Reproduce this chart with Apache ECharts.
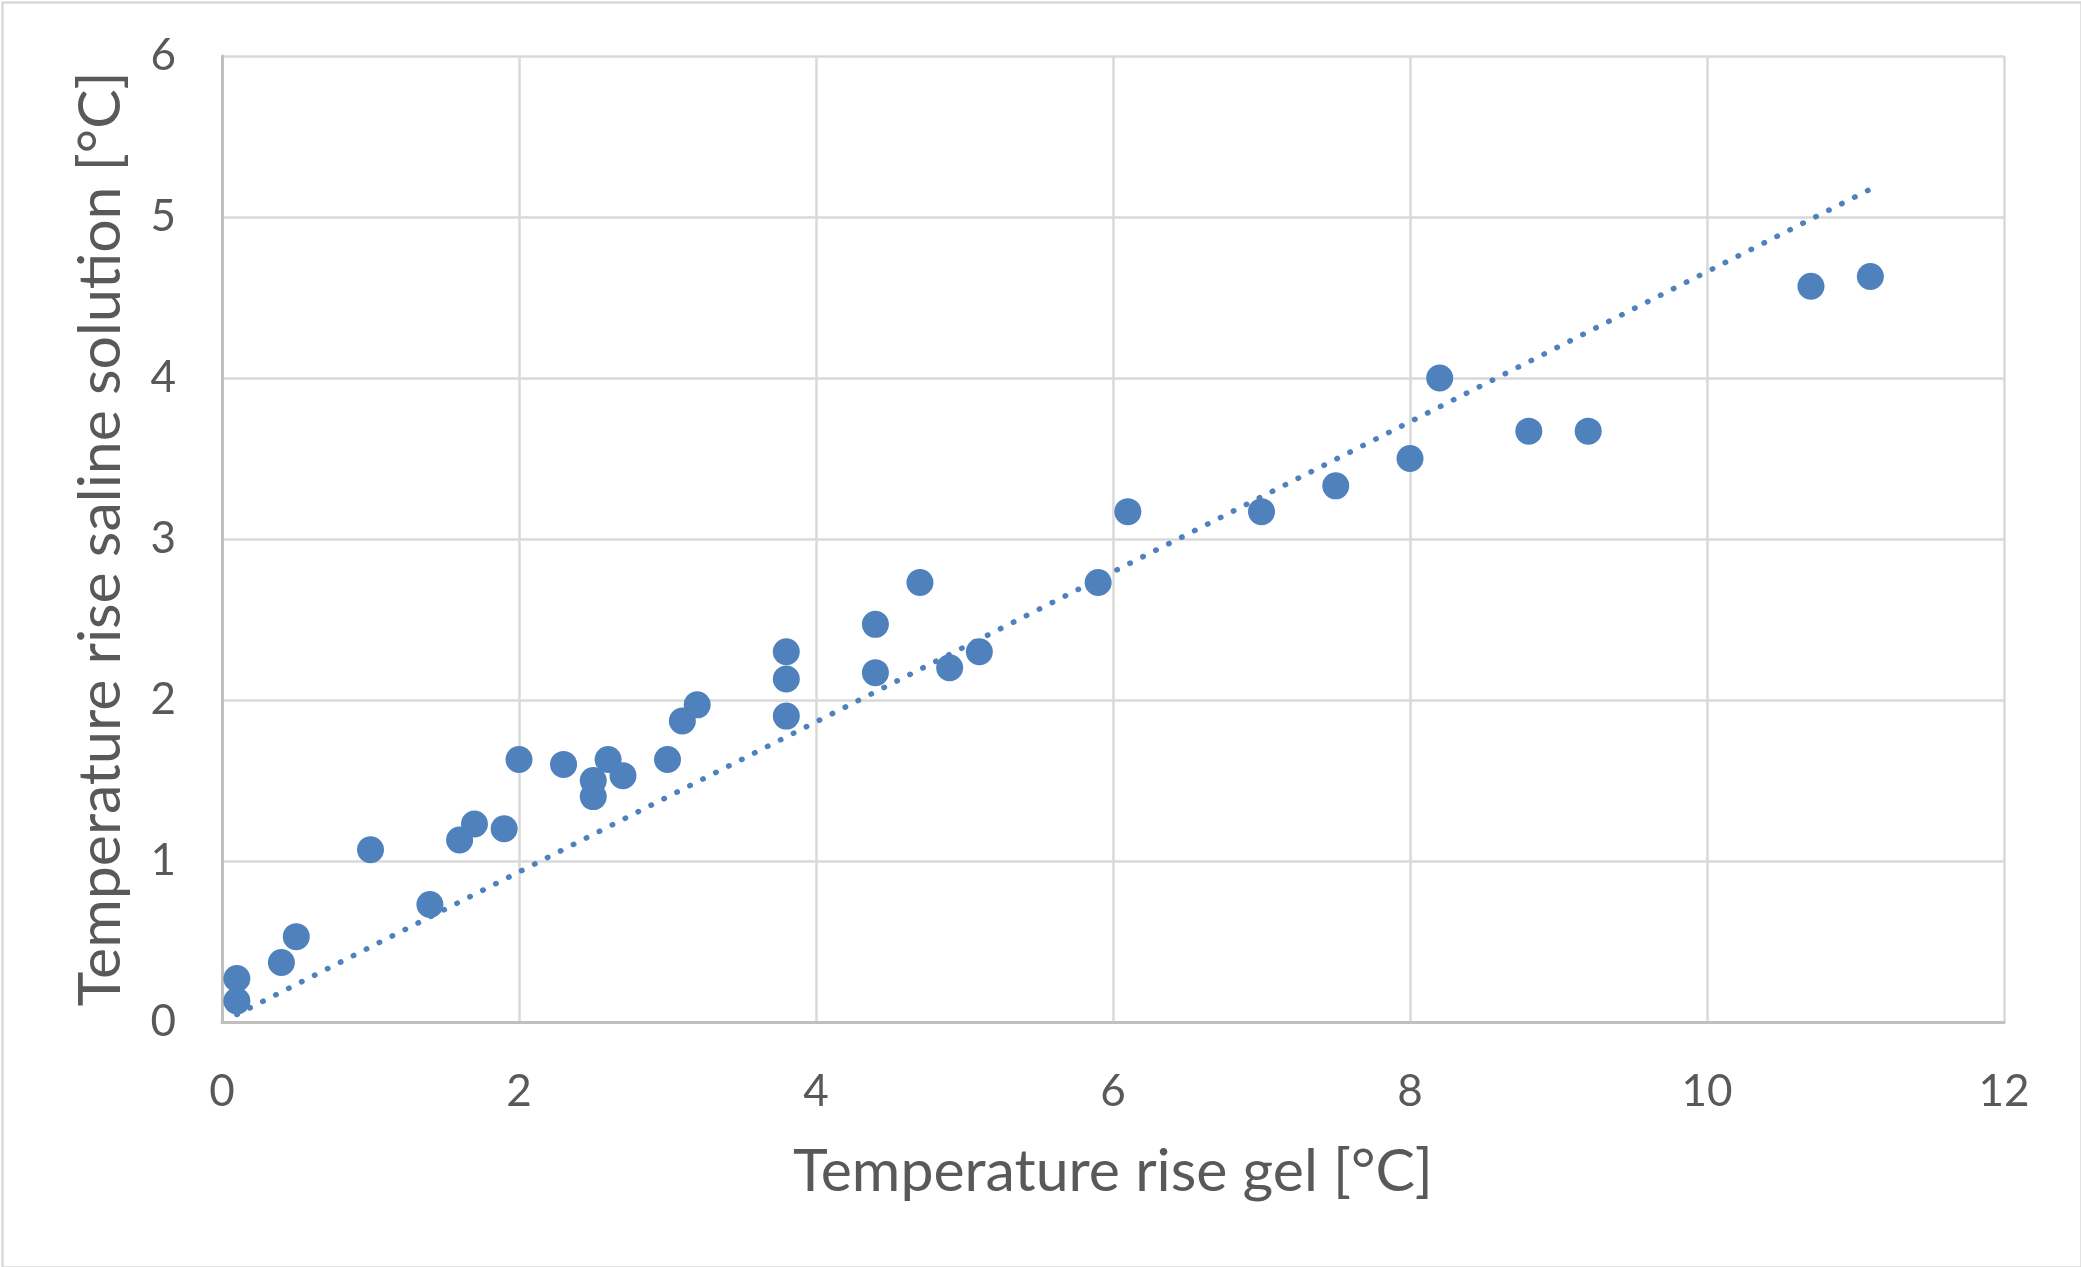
<!DOCTYPE html>
<html><head><meta charset="utf-8">
<script src="https://cdn.jsdelivr.net/npm/echarts@6/dist/echarts.min.js"></script>
<style>html,body{margin:0;padding:0;background:#fff}#c{width:2081px;height:1267px}</style>
</head><body><div id="c"></div>
<script>
// Measured points: temperature rise of gel (x) vs saline solution (y)
const gelRise = [0.1, 0.1, 0.4, 0.5, 1.0, 1.4, 1.6, 1.7, 1.9, 2.0, 2.3, 2.5, 2.5, 2.6, 2.7, 3.0, 3.1, 3.2,
  3.8, 3.8, 3.8, 4.4, 4.4, 4.7, 4.9, 5.1, 5.9, 6.1, 7.0, 7.5, 8.0, 8.2, 8.8, 9.2, 10.7, 11.1];
const salineRise = [0.27, 0.13, 0.37, 0.53, 1.07, 0.73, 1.13, 1.23, 1.2, 1.63, 1.6, 1.5, 1.4, 1.63, 1.53, 1.63, 1.87, 1.97,
  2.3, 2.13, 1.9, 2.47, 2.17, 2.73, 2.2, 2.3, 2.73, 3.17, 3.17, 3.33, 3.5, 4.0, 3.67, 3.67, 4.57, 4.63];
const xTicks = [0, 2, 4, 6, 8, 10, 12];
const yTicks = [0, 1, 2, 3, 4, 5, 6];
const xTitle = 'Temperature rise gel [°C]';
const yTitle = 'Temperature rise saline solution [°C]';

// Linear trendline through the origin (least squares), spanning the data range
let sxy = 0, sxx = 0;
gelRise.forEach((x, i) => { sxy += x * salineRise[i]; sxx += x * x; });
const slope = sxy / sxx;
const xMin = Math.min(...gelRise), xMax = Math.max(...gelRise);
const trend = [[xMin, slope * xMin], [xMax, slope * xMax]];

const FONT = 'Lato';
const TXT = '#595959';
const chart = echarts.init(document.getElementById('c'), null, {renderer: 'canvas'});
chart.setOption({
  animation: false,
  backgroundColor: '#fff',
  graphic: [{type: 'rect', left: 0, top: 0, shape: {x: 1, y: 1, width: 2079, height: 1265},
    style: {fill: 'none', stroke: '#D9D9D9', lineWidth: 2.5}, silent: true}],
  grid: {left: 222, right: 77, top: 56, bottom: 245, containLabel: false},
  xAxis: {
    type: 'value', min: xTicks[0], max: xTicks[xTicks.length - 1], interval: xTicks[1] - xTicks[0],
    name: xTitle, nameLocation: 'middle', nameGap: 120,
    nameTextStyle: {fontFamily: FONT, fontSize: 59, color: TXT},
    axisLine: {show: true, onZero: false, lineStyle: {color: '#BFBFBF', width: 3}},
    axisTick: {show: false},
    axisLabel: {fontFamily: FONT, fontSize: 44, color: TXT, margin: 48},
    splitLine: {show: true, lineStyle: {color: '#D9D9D9', width: 2.5}}
  },
  yAxis: {
    type: 'value', min: yTicks[0], max: yTicks[yTicks.length - 1], interval: yTicks[1] - yTicks[0],
    name: yTitle, nameLocation: 'middle', nameGap: 92,
    nameTextStyle: {fontFamily: FONT, fontSize: 59, color: TXT},
    axisLine: {show: true, onZero: false, lineStyle: {color: '#BFBFBF', width: 3}},
    axisTick: {show: false},
    axisLabel: {fontFamily: FONT, fontSize: 44, color: TXT, margin: 46},
    splitLine: {show: true, lineStyle: {color: '#D9D9D9', width: 2.5}}
  },
  series: [
    {
      type: 'line', data: trend, symbol: 'none', silent: true, z: 3,
      lineStyle: {color: '#4F81BD', width: 5.5, type: [0.5, 14], cap: 'round'}
    },
    {
      type: 'scatter', data: gelRise.map((x, i) => [x, salineRise[i]]),
      symbol: 'circle', symbolSize: 27, z: 4,
      itemStyle: {color: '#4F81BD', opacity: 1}
    }
  ]
});
</script></body></html>
